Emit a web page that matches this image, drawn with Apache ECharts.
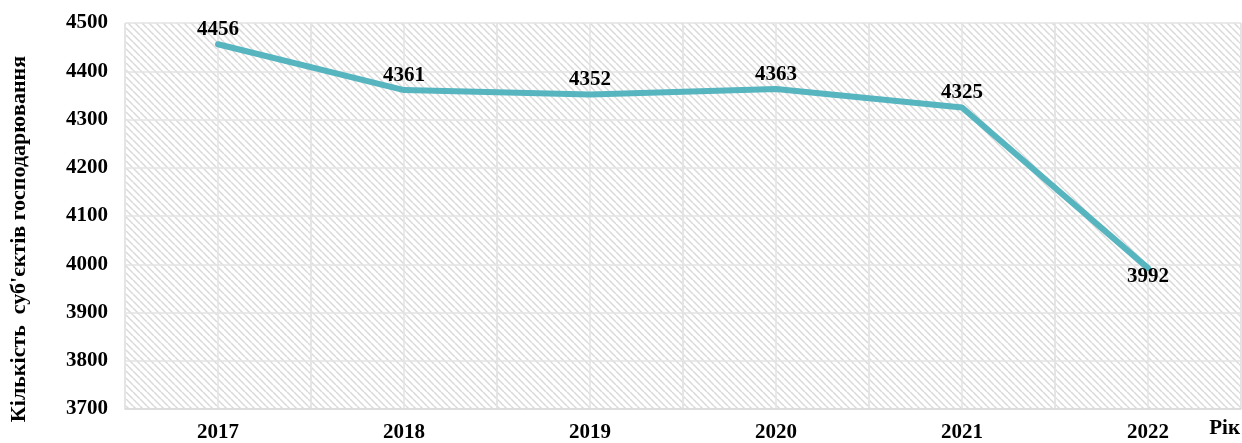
<!DOCTYPE html>
<html>
<head>
<meta charset="utf-8">
<script src="https://cdn.jsdelivr.net/npm/echarts@6/dist/echarts.min.js"></script>
<style>
  html, body { margin: 0; padding: 0; background: #fff; }
  #chart { width: 1242px; height: 443px; }
</style>
</head>
<body>
<div id="chart"></div>
<script>
const years = ['2017', '2018', '2019', '2020', '2021', '2022']
const counts = [4456, 4361, 4352, 4363, 4325, 3992]
const labelPos = ['top', 'top', 'top', 'top', 'top', 'bottom']

// hatch pattern for plot background
const hatch = document.createElement('canvas')
hatch.width = 7
hatch.height = 7
const hc = hatch.getContext('2d')
hc.fillStyle = '#ffffff'
hc.fillRect(0, 0, 7, 7)
hc.strokeStyle = '#d9d9d9'
hc.lineWidth = 1.5
for (let o = -7; o <= 7; o += 7) {
  hc.beginPath()
  hc.moveTo(o, 0)
  hc.lineTo(o + 7, 7)
  hc.stroke()
}

const font = '"Liberation Serif", "Times New Roman", serif'
const chart = echarts.init(document.getElementById('chart'))

const option = {
  animation: false,
  grid: {
    left: 125, right: 1, top: 23, bottom: 34,
    outerBoundsMode: 'none',
    show: true, borderWidth: 0,
    backgroundColor: { image: hatch, repeat: 'repeat' }
  },
  xAxis: [
    {
      type: 'category',
      data: years,
      boundaryGap: true,
      axisLine: { lineStyle: { color: '#d9d9d9', width: 1.5 } },
      axisTick: { show: false },
      axisLabel: { color: '#000', fontFamily: font, fontWeight: 'bold', fontSize: 21, margin: 13 },
      splitLine: { show: true, lineStyle: { color: '#e3e3e3', width: 1.5 } },
      name: 'Рік',
      nameLocation: 'end',
      nameGap: -1,
      nameTextStyle: {
        color: '#000', fontFamily: font, fontWeight: 'bold', fontSize: 21,
        align: 'right', verticalAlign: 'top', padding: [9, 0, 0, 0]
      }
    },
    {
      // extra grid lines at category centres
      type: 'value', position: 'bottom', min: 0, max: 12, interval: 1,
      axisLine: { show: false }, axisTick: { show: false }, axisLabel: { show: false },
      splitLine: { show: true, lineStyle: { color: '#e3e3e3', width: 1.5 } }
    }
  ],
  yAxis: {
    type: 'value',
    min: 3700, max: 4500, interval: 100,
    axisLine: { show: false },
    axisTick: { show: false },
    axisLabel: {
      color: '#000', fontFamily: font, fontWeight: 'bold', fontSize: 21, margin: 17,
      formatter: v => String(v)
    },
    splitLine: { show: true, lineStyle: { color: '#e3e3e3', width: 1.5 } },
    name: 'Кількість  суб\'єктів господарювання',
    nameLocation: 'middle',
    nameGap: 95,
    nameTextStyle: {
      color: '#000', fontFamily: font, fontWeight: 'bold', fontSize: 22,
      padding: [0, 46, 0, 0]
    }
  },
  series: [{
    type: 'line',
    xAxisIndex: 0,
    data: counts.map((v, i) => ({
      value: v,
      label: { position: labelPos[i], distance: labelPos[i] === 'bottom' ? -3 : 3 }
    })),
    symbol: 'circle',
    symbolSize: 2,
    showSymbol: true,
    itemStyle: { color: 'rgba(0,0,0,0)' },
    lineStyle: { color: '#56b5bf', width: 6, cap: 'round' },
    label: {
      show: true,
      color: '#000', fontFamily: font, fontWeight: 'bold', fontSize: 21
    }
  }]
}
chart.setOption(option)
</script>
</body>
</html>
